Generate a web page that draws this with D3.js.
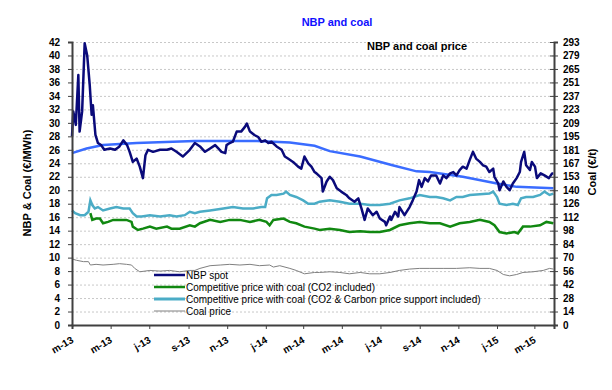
<!DOCTYPE html>
<html>
<head>
<meta charset="utf-8">
<script src="https://cdn.jsdelivr.net/npm/d3@7"></script>
<style>
  body { margin: 0; background: #fff; }
  text { font-family: Arial, "Liberation Sans", sans-serif; }
</style>
</head>
<body>
<div id="chart"></div>
<script>
// NBP spot (€/MWh)
let nbpSpot = [
  ["2013-03-01",28.0],["2013-03-03",31.7],["2013-03-07",29.7],["2013-03-11",37.1],["2013-03-13",28.7],
  ["2013-03-17",31.7],["2013-03-21",41.8],["2013-03-25",40.0],["2013-03-29",35.6],["2013-04-01",31.2],
  ["2013-04-03",32.6],["2013-04-07",28.2],["2013-04-11",27.0],["2013-04-16",26.7],["2013-04-21",26.0],
  ["2013-04-30",26.2],["2013-05-08",26.0],["2013-05-15",26.5],["2013-05-21",27.4],["2013-05-27",26.7],
  ["2013-05-31",25.7],["2013-06-05",24.2],["2013-06-11",24.7],["2013-06-16",23.5],["2013-06-21",21.8],
  ["2013-06-25",25.2],["2013-06-29",26.0],["2013-07-07",25.7],["2013-07-18",26.0],["2013-07-29",26.0],
  ["2013-08-05",26.2],["2013-08-13",25.7],["2013-08-23",25.0],["2013-09-03",26.0],["2013-09-11",27.0],
  ["2013-09-19",26.5],["2013-09-27",25.7],["2013-10-05",26.2],["2013-10-13",26.7],["2013-10-18",26.2],
  ["2013-10-23",25.7],["2013-10-29",25.5],["2013-10-31",26.7],["2013-11-05",27.0],["2013-11-10",27.2],
  ["2013-11-16",28.7],["2013-11-23",28.7],["2013-11-29",29.4],["2013-12-02",29.9],["2013-12-07",28.7],
  ["2013-12-14",28.2],["2013-12-20",27.9],["2013-12-25",27.2],["2013-12-31",27.4],["2014-01-05",27.0],
  ["2014-01-10",27.2],["2014-01-18",26.5],["2014-01-26",26.0],["2014-01-31",25.0],["2014-02-05",24.7],
  ["2014-02-13",24.2],["2014-02-21",23.5],["2014-02-26",23.2],["2014-03-03",25.0],["2014-03-09",24.0],
  ["2014-03-14",23.5],["2014-03-19",22.7],["2014-03-22",22.5],["2014-03-30",21.8],["2014-04-01",19.8],
  ["2014-04-07",21.3],["2014-04-12",22.0],["2014-04-17",21.5],["2014-04-23",20.3],["2014-04-30",19.8],
  ["2014-05-08",19.3],["2014-05-13",18.8],["2014-05-21",18.3],["2014-05-27",18.8],["2014-06-01",17.3],
  ["2014-06-06",15.6],["2014-06-11",17.3],["2014-06-19",16.3],["2014-06-25",16.8],["2014-06-30",15.8],
  ["2014-07-08",15.3],["2014-07-10",14.8],["2014-07-16",16.1],["2014-07-18",15.6],["2014-07-24",16.8],
  ["2014-07-29",16.1],["2014-07-31",17.5],["2014-08-08",16.3],["2014-08-16",17.5],["2014-08-21",18.5],
  ["2014-08-27",19.8],["2014-08-31",21.5],["2014-09-04",20.5],["2014-09-09",21.8],["2014-09-14",21.3],
  ["2014-09-19",22.2],["2014-09-25",22.2],["2014-09-27",22.2],["2014-10-03",21.0],["2014-10-08",22.2],
  ["2014-10-13",21.8],["2014-10-19",22.5],["2014-10-24",22.7],["2014-10-29",22.2],["2014-11-03",23.0],
  ["2014-11-08",23.5],["2014-11-14",23.2],["2014-11-19",24.5],["2014-11-24",25.7],["2014-11-29",24.7],
  ["2014-12-05",24.2],["2014-12-10",23.7],["2014-12-15",23.5],["2014-12-20",22.7],["2014-12-26",23.2],
  ["2014-12-28",22.0],["2015-01-03",21.0],["2015-01-05",20.0],["2015-01-11",21.3],["2015-01-16",20.5],
  ["2015-01-21",20.0],["2015-01-26",21.0],["2015-02-01",21.8],["2015-02-06",22.7],["2015-02-08",24.2],
  ["2015-02-13",25.7],["2015-02-16",23.7],["2015-02-22",23.0],["2015-02-25",24.2],["2015-03-02",23.5],
  ["2015-03-05",21.8],["2015-03-11",22.5],["2015-03-17",22.2],["2015-03-24",21.8],["2015-03-29",22.5],
  ["2015-03-31",22.5]
]

// smooth blue curve (not in legend)
let nbpSmooth = [
  ["2013-03-01",25.5],["2013-03-24",26.2],["2013-04-19",26.7],["2013-06-11",27.0],["2013-09-11",27.3],
  ["2013-12-18",27.3],["2014-02-08",27.1],["2014-03-19",26.6],["2014-04-12",25.8],["2014-05-30",25.0],
  ["2014-07-20",23.7],["2014-08-27",22.8],["2014-09-17",22.7],["2014-11-08",22.0],["2015-01-01",21.0],
  ["2015-02-01",20.5],["2015-03-31",20.3]
]

// Competitive price with coal (CO2 & Carbon price support included)
let coalCps = [
  ["2013-03-01",17.0],["2013-03-06",16.6],["2013-03-14",16.3],["2013-03-21",16.3],["2013-03-27",16.8],
  ["2013-03-30",18.5],["2013-04-02",17.8],["2013-04-06",17.3],["2013-04-11",17.5],["2013-04-19",17.0],
  ["2013-04-30",17.3],["2013-05-10",17.5],["2013-05-21",17.3],["2013-05-31",17.3],["2013-06-05",16.6],
  ["2013-06-11",16.1],["2013-06-19",16.1],["2013-07-02",16.3],["2013-07-18",16.1],["2013-08-02",16.3],
  ["2013-08-13",16.1],["2013-08-26",16.3],["2013-09-03",16.8],["2013-09-11",16.6],["2013-09-19",16.8],
  ["2013-10-05",17.0],["2013-10-26",17.3],["2013-11-10",17.5],["2013-11-26",17.3],["2013-12-12",17.3],
  ["2013-12-25",17.5],["2013-12-31",17.5],["2014-01-03",18.8],["2014-01-10",19.3],["2014-01-18",19.3],
  ["2014-01-29",19.5],["2014-02-02",19.8],["2014-02-08",19.3],["2014-02-18",19.0],["2014-03-01",18.5],
  ["2014-03-09",18.0],["2014-03-19",18.0],["2014-03-27",18.3],["2014-04-12",18.5],["2014-04-28",18.3],
  ["2014-05-13",18.0],["2014-05-30",18.0],["2014-06-14",17.8],["2014-06-30",17.8],["2014-07-16",18.0],
  ["2014-07-31",18.5],["2014-08-16",18.8],["2014-09-01",19.3],["2014-09-17",19.0],["2014-09-27",19.0],
  ["2014-10-08",18.8],["2014-10-19",18.5],["2014-10-29",19.0],["2014-11-08",19.0],["2014-11-19",19.3],
  ["2014-12-05",19.4],["2014-12-20",19.5],["2014-12-26",19.8],["2015-01-01",19.0],["2015-01-05",18.0],
  ["2015-01-16",17.8],["2015-01-26",18.0],["2015-02-03",17.8],["2015-02-08",18.8],["2015-02-16",19.0],
  ["2015-02-27",19.0],["2015-03-10",19.3],["2015-03-17",19.8],["2015-03-25",19.3],["2015-03-31",19.5]
]

// Competitive price with coal (CO2 included)
let coalCo2 = [
  ["2013-03-30",16.6],["2013-04-02",15.6],["2013-04-08",15.8],["2013-04-14",15.8],["2013-04-19",15.1],
  ["2013-04-27",15.3],["2013-05-05",15.6],["2013-05-15",15.6],["2013-05-26",15.6],["2013-06-03",15.3],
  ["2013-06-05",14.6],["2013-06-13",14.1],["2013-06-21",14.3],["2013-07-02",14.6],["2013-07-12",14.3],
  ["2013-07-29",14.6],["2013-08-05",14.3],["2013-08-18",14.3],["2013-09-03",14.8],["2013-09-11",14.6],
  ["2013-09-19",15.1],["2013-10-05",15.6],["2013-10-21",15.3],["2013-11-05",15.6],["2013-11-21",15.6],
  ["2013-12-07",15.3],["2013-12-22",15.6],["2014-01-02",15.3],["2014-01-07",14.8],["2014-01-13",15.6],
  ["2014-01-29",15.8],["2014-02-08",15.3],["2014-02-18",15.1],["2014-03-03",14.6],["2014-03-19",14.3],
  ["2014-03-27",14.1],["2014-04-12",14.3],["2014-04-28",14.1],["2014-05-13",13.8],["2014-05-30",13.9],
  ["2014-06-14",13.8],["2014-06-30",13.8],["2014-07-16",14.1],["2014-07-31",14.8],["2014-08-16",15.1],
  ["2014-09-01",15.3],["2014-09-17",15.1],["2014-10-03",15.1],["2014-10-19",14.6],["2014-11-03",15.1],
  ["2014-11-19",15.3],["2014-12-05",15.6],["2014-12-20",15.3],["2014-12-28",14.8],["2015-01-05",13.8],
  ["2015-01-16",13.6],["2015-01-29",13.8],["2015-02-03",13.6],["2015-02-11",14.6],["2015-02-22",14.6],
  ["2015-03-10",14.8],["2015-03-20",15.3],["2015-03-31",15.1]
]

// Coal price (€/t, right axis)
let coalPrice = [
  ["2013-03-01",68.4],["2013-03-08",67.0],["2013-03-19",65.6],["2013-03-27",65.6],["2013-03-30",62.1],
  ["2013-04-08",62.8],["2013-04-19",62.1],["2013-05-05",62.8],["2013-05-15",63.5],["2013-05-26",62.8],
  ["2013-06-03",62.1],["2013-06-08",58.6],["2013-06-16",55.1],["2013-07-02",56.5],["2013-07-18",55.8],
  ["2013-08-02",56.5],["2013-08-18",55.1],["2013-09-03",56.5],["2013-09-11",56.5],["2013-09-19",58.6],
  ["2013-10-05",61.4],["2013-10-21",62.1],["2013-11-05",62.8],["2013-11-21",62.1],["2013-12-07",62.8],
  ["2013-12-22",61.4],["2014-01-07",62.1],["2014-01-13",60.0],["2014-01-23",61.4],["2014-02-08",58.6],
  ["2014-02-18",56.5],["2014-03-03",53.0],["2014-03-19",54.4],["2014-03-27",54.4],["2014-04-12",55.1],
  ["2014-04-28",54.4],["2014-05-13",53.0],["2014-05-30",54.4],["2014-06-14",53.0],["2014-06-30",53.0],
  ["2014-07-16",54.4],["2014-07-31",56.5],["2014-08-16",57.9],["2014-09-01",58.6],["2014-09-17",58.6],
  ["2014-10-08",58.6],["2014-10-29",58.6],["2014-11-19",59.3],["2014-12-05",58.6],["2014-12-20",58.6],
  ["2015-01-01",56.5],["2015-01-11",52.3],["2015-01-21",50.9],["2015-02-01",52.3],["2015-02-11",54.4],
  ["2015-02-27",55.1],["2015-03-15",56.5],["2015-03-25",58.6],["2015-03-31",57.9]
]

let xTickDates = ["2013-03-01","2013-05-01","2013-07-01","2013-09-01","2013-11-01","2014-01-01",
  "2014-03-01","2014-05-01","2014-07-01","2014-09-01","2014-11-01","2015-01-01","2015-03-01"]
let xTickLabels = ["m-13","m-13","j-13","s-13","n-13","j-14","m-14","m-14","j-14","s-14","n-14","j-15","m-15"]

let legendNames = ["NBP spot", "Competitive price with coal (CO2 included)",
  "Competitive price with coal (CO2 & Carbon price support included)", "Coal price"]

let parseTime = d3.timeParse("%Y-%m-%d")

var width = 612, height = 390
var margin = {top: 42, right: 58, bottom: 65, left: 72}

var svg = d3.select("#chart")
  .append("svg")
  .attr("width", width)
  .attr("height", height)

var x = d3.scaleTime()
  .domain([parseTime("2013-03-01"), parseTime("2015-04-01")])
  .range([margin.left, width - margin.right])

var y = d3.scaleLinear()
  .domain([0, 42])
  .range([height - margin.bottom, margin.top])

var yR = d3.scaleLinear()
  .domain([0, 293])
  .range([height - margin.bottom, margin.top])

// titles
svg.append("text")
  .attr("x", 337)
  .attr("y", 26)
  .attr("text-anchor", "middle")
  .attr("fill", "#1010ff")
  .style("font-size", "11px")
  .style("font-weight", "bold")
  .text("NBP and coal")

// gridlines
svg.append("g")
  .attr("transform", "translate(" + margin.left + ",0)")
  .call(d3.axisLeft(y)
    .tickValues(d3.range(2, 43, 2))
    .tickSize(-(width - margin.left - margin.right))
    .tickFormat(""))
  .call(g => g.select(".domain").remove())
  .call(g => g.selectAll("line")
    .attr("stroke", "#c8c8c8")
    .attr("stroke-dasharray", "2,2"))

svg.append("text")
  .attr("x", 417)
  .attr("y", 50)
  .attr("text-anchor", "middle")
  .attr("fill", "#000")
  .style("font-size", "11px")
  .style("font-weight", "bold")
  .text("NBP and coal price")

// lines
let line = d3.line()
  .x(d => x(parseTime(d[0])))
  .y(d => y(d[1]))
let lineR = d3.line()
  .x(d => x(parseTime(d[0])))
  .y(d => yR(d[1]))

svg.append("path")
  .attr("d", lineR(coalPrice))
  .attr("stroke", "#808080")
  .attr("stroke-width", 1)
  .attr("fill", "none")

svg.append("path")
  .attr("d", line(coalCo2))
  .attr("stroke", "#118811")
  .attr("stroke-width", 2.5)
  .attr("fill", "none")

svg.append("path")
  .attr("d", line(coalCps))
  .attr("stroke", "#4bacc6")
  .attr("stroke-width", 2.5)
  .attr("fill", "none")

svg.append("path")
  .attr("d", line(nbpSmooth))
  .attr("stroke", "#3a6cff")
  .attr("stroke-width", 2.5)
  .attr("fill", "none")

svg.append("path")
  .attr("d", line(nbpSpot))
  .attr("stroke", "#0a0a7a")
  .attr("stroke-width", 2.5)
  .attr("stroke-linejoin", "round")
  .attr("fill", "none")

// axes
let axisColor = "#404040"

svg.append("g")
  .attr("transform", "translate(" + margin.left + ",0)")
  .call(d3.axisLeft(y).tickValues(d3.range(0, 43, 2)).tickSize(4).tickPadding(8))
  .call(g => g.select(".domain").attr("stroke", axisColor).attr("stroke-width", 2))
  .call(g => g.selectAll("line").attr("stroke", axisColor))
  .call(g => g.selectAll("text")
    .attr("fill", "#000")
    .style("font-size", "10px")
    .style("font-weight", "bold")
    .style("font-family", "Arial, 'Liberation Sans', sans-serif"))

svg.append("g")
  .attr("transform", "translate(" + (width - margin.right) + ",0)")
  .call(d3.axisRight(yR)
    .tickValues(d3.range(0, 22).map(k => k * 293 / 21))
    .tickFormat(d => Math.round(d))
    .tickSize(4).tickPadding(5))
  .call(g => g.select(".domain").attr("stroke", axisColor).attr("stroke-width", 2))
  .call(g => g.selectAll("line").attr("stroke", axisColor).attr("x1", -4))
  .call(g => g.selectAll("text")
    .attr("fill", "#000")
    .style("font-size", "10px")
    .style("font-weight", "bold")
    .style("font-family", "Arial, 'Liberation Sans', sans-serif"))

svg.append("g")
  .attr("transform", "translate(0," + (height - margin.bottom) + ")")
  .call(d3.axisBottom(x)
    .tickValues(xTickDates.map(parseTime))
    .tickFormat((d, i) => xTickLabels[i])
    .tickSize(4))
  .call(g => g.select(".domain").attr("stroke", axisColor).attr("stroke-width", 2))
  .call(g => g.selectAll("line").attr("stroke", axisColor))
  .call(g => g.selectAll("text")
    .attr("fill", "#000")
    .attr("text-anchor", "end")
    .attr("transform", "translate(0,14) rotate(-30)")
    .attr("dy", "0.35em")
    .attr("y", 0)
    .style("font-size", "10px")
    .style("font-weight", "bold")
    .style("font-family", "Arial, 'Liberation Sans', sans-serif"))

// axis titles
svg.append("text")
  .attr("transform", "translate(31,183) rotate(-90)")
  .attr("text-anchor", "middle")
  .attr("fill", "#000")
  .style("font-size", "11px")
  .style("font-weight", "bold")
  .text("NBP & Coal (€/MWh)")

svg.append("text")
  .attr("transform", "translate(596,172) rotate(-90)")
  .attr("text-anchor", "middle")
  .attr("fill", "#000")
  .style("font-size", "11px")
  .style("font-weight", "bold")
  .text("Coal (€/t)")

// legend
let legendColors = ["#0a0a7a", "#118811", "#4bacc6", "#808080"]
let legendWidths = [2.5, 2.5, 3, 1]
legendNames.forEach(function(name, i) {
  let ly = 275 + i * 12
  svg.append("line")
    .attr("x1", 154).attr("x2", 185)
    .attr("y1", ly).attr("y2", ly)
    .attr("stroke", legendColors[i])
    .attr("stroke-width", legendWidths[i])
  svg.append("text")
    .attr("x", 186)
    .attr("y", ly + 3.5)
    .attr("fill", "#000")
    .style("font-size", "10px")
    .text(name)
})
</script>
</body>
</html>
